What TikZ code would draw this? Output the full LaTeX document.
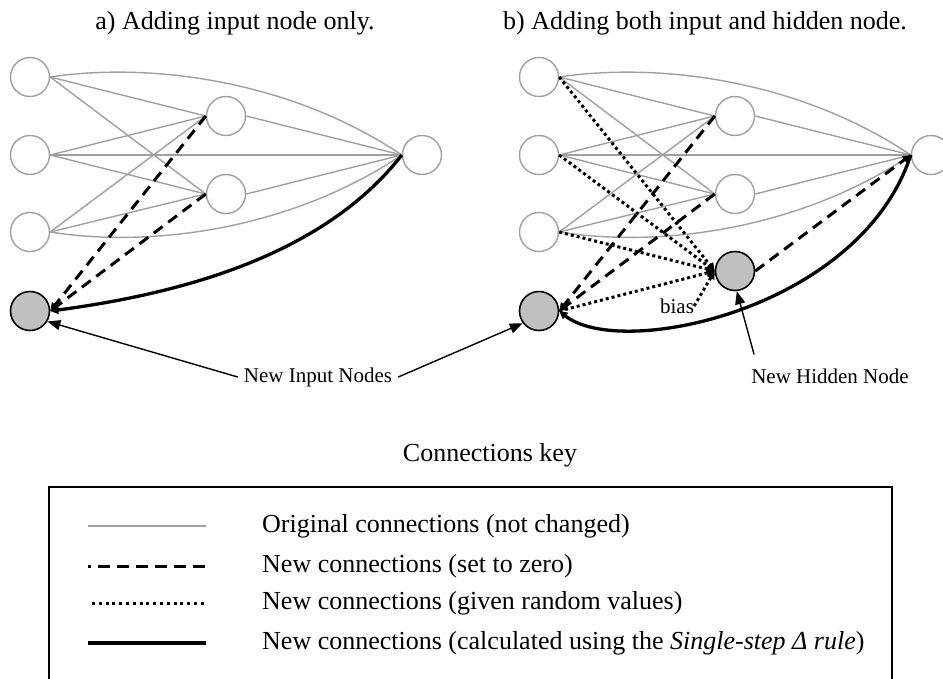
\documentclass[tikz,border=0pt]{standalone}
\usepackage{fontspec}
\setmainfont{Liberation Serif}
\usetikzlibrary{arrows.meta,calc}
\definecolor{netgray}{RGB}{160,160,160}
\definecolor{newfill}{RGB}{192,192,192}
\tikzset{
 neuron/.style={circle,draw=netgray,line width=1.4pt,minimum size=39pt,inner sep=0pt},
 newneuron/.style={circle,draw=black,fill=newfill,line width=1.6pt,minimum size=39pt,inner sep=0pt},
 orig/.style={draw=netgray,line width=1.4pt},
 zeroconn/.style={draw=black,line width=3pt,dash pattern=on 11pt off 7pt},
 randconn/.style={draw=black,line width=3pt,dash pattern=on 3pt off 3pt},
 calcconn/.style={draw=black,line width=3.3pt},
 tipsmall/.style={-{Triangle[length=8pt,width=8pt]}},
 pointer/.style={draw=black,line width=1.4pt,-{Triangle[length=13pt,width=10pt]}},
 bigtext/.style={font=\fontsize{26}{30}\selectfont,inner sep=0pt},
 smalltext/.style={font=\fontsize{21}{25}\selectfont,inner sep=0pt},
}
\begin{document}
\begin{tikzpicture}[x=1pt,y=-1pt]
\useasboundingbox (0,0) rectangle (943,678);
% titles
\node[bigtext] (ta) at (235,23) {a) Adding input node only.};
\node[bigtext] (tb) at (705,23) {b) Adding both input and hidden node.};
% networks
\foreach \p/\dx in {a/0,b/509} {
  \node[neuron] (I1\p) at (30+\dx,77) {};
  \node[neuron] (I2\p) at (30+\dx,155) {};
  \node[neuron] (I3\p) at (30+\dx,232) {};
  \node[neuron] (H1\p) at (226+\dx,116) {};
  \node[neuron] (H2\p) at (226+\dx,194) {};
  \node[neuron] (O\p) at (422+\dx,155) {};
  \node[newneuron] (NI\p) at (30+\dx,311) {};
  \draw[orig] (I1\p.east) .. controls (150+\dx,62) and (290+\dx,80) .. (O\p.west);
  \draw[orig] (I3\p.east) .. controls (150+\dx,248) and (290+\dx,230) .. (O\p.west);
  \foreach \s/\t in {I1/H1,I1/H2,I2/H1,I2/O,I2/H2,I3/H1,I3/H2} {
    \draw[orig] (\s\p.east) -- (\t\p.west);
  }
  \draw[orig] (H1\p.east) -- (O\p.west);
  \draw[orig] (H2\p.east) -- (O\p.west);
  \draw[zeroconn,tipsmall] (H1\p.west) -- (NI\p.east);
  \draw[zeroconn,tipsmall] (H2\p.west) -- (NI\p.east);
}
% panel a calculated connection
\draw[calcconn,tipsmall] (Oa.west) .. controls (320,260) and (170,295) .. (NIa.east);
% panel b new hidden node
\node[newneuron] (NH) at (735,271) {};
\node[smalltext] (bias) at (677,306) {bias};
\draw[randconn,tipsmall] (I1b.east) -- (NH.west);
\draw[randconn,tipsmall] (I2b.east) -- (NH.west);
\draw[randconn,tipsmall] (I3b.east) -- (NH.west);
\draw[randconn,tipsmall] (NIb.east) -- (NH.west);
\draw[randconn,tipsmall] (bias.east) -- (NH.west);
\draw[zeroconn,tipsmall] (NH.east) -- (Ob.west);
\draw[calcconn,tipsmall] (Ob.west) .. controls (860,310) and (620,360) .. (NIb.east);
% labels
\node[smalltext] (nin) at (318,377) {New Input Nodes};
\node[smalltext] (nhid) at (830,376) {New Hidden Node};
\draw[pointer] ([xshift=-6pt]nin.west) -- (NIa.-31);
\draw[pointer] ([xshift=6pt]nin.east) -- (NIb.-143);
\draw[pointer] ([xshift=3pt,yshift=14pt]nhid.north west) -- (NH.-85);
% key
\node[bigtext] (key) at (490,455) {Connections key};
\draw[line width=1.5pt] (49,690) -- (49,487) -- (892,487) -- (892,690);
\coordinate (k1a) at (88,526); \coordinate (k1b) at (206,526);
\coordinate (k2a) at (88,566); \coordinate (k2b) at (206,566);
\coordinate (k3a) at (92,603); \coordinate (k3b) at (206,603);
\coordinate (k4a) at (88,643); \coordinate (k4b) at (206,643);
\draw[orig] (k1a) -- (k1b);
\draw[black,line width=3pt,dash pattern=on 12pt off 7pt,dash phase=9pt] (k2a) -- (k2b);
\draw[black,line width=3pt,dash pattern=on 3pt off 3.8pt] (k3a) -- (k3b);
\draw[calcconn] (k4a) -- (k4b);
\node[bigtext,anchor=west] (t1) at (262,526) {Original connections (not changed)};
\node[bigtext,anchor=west] (t2) at (262,566) {New connections (set to zero)};
\node[bigtext,anchor=west] (t3) at (262,603) {New connections (given random values)};
\node[bigtext,anchor=west] (t4) at (262,643) {New connections (calculated using the \textit{Single-step Δ rule})};
\end{tikzpicture}
\end{document}
